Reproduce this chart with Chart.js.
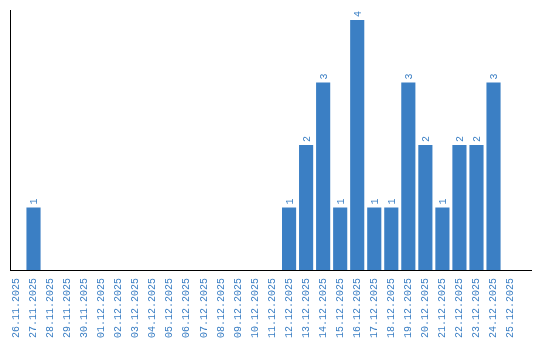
<!DOCTYPE html>
<html>
<head>
<meta charset="utf-8">
<script src="https://cdn.jsdelivr.net/npm/chart.js@4"></script>
<style>
  html, body { margin: 0; padding: 0; background: #fff; }
  #wrap { width: 540px; height: 340px; }
</style>
</head>
<body>
<div id="wrap"><canvas id="countChart"></canvas></div>
<script>
const dates = [
  "26.11.2025", "27.11.2025", "28.11.2025", "29.11.2025", "30.11.2025",
  "01.12.2025", "02.12.2025", "03.12.2025", "04.12.2025", "05.12.2025",
  "06.12.2025", "07.12.2025", "08.12.2025", "09.12.2025", "10.12.2025",
  "11.12.2025", "12.12.2025", "13.12.2025", "14.12.2025", "15.12.2025",
  "16.12.2025", "17.12.2025", "18.12.2025", "19.12.2025", "20.12.2025",
  "21.12.2025", "22.12.2025", "23.12.2025", "24.12.2025", "25.12.2025"
];
const counts = [
  0, 1, 0, 0, 0,
  0, 0, 0, 0, 0,
  0, 0, 0, 0, 0,
  0, 1, 2, 3, 1,
  4, 1, 1, 3, 2,
  1, 2, 2, 3, 0
];

const blue = "#3b7fc4";
const monoFont = "'Liberation Mono', monospace";

// value labels written upwards above each bar
const valueLabels = {
  id: "valueLabels",
  afterDatasetsDraw(chart) {
    const ctx = chart.ctx;
    const meta = chart.getDatasetMeta(0);
    ctx.save();
    ctx.fillStyle = blue;
    ctx.font = "10px " + monoFont;
    ctx.textAlign = "left";
    ctx.textBaseline = "middle";
    meta.data.forEach((bar, i) => {
      if (!counts[i]) return;
      ctx.save();
      ctx.translate(bar.x + 1, bar.y - 3);
      ctx.rotate(-Math.PI / 2);
      ctx.fillText(String(counts[i]), 0, 0);
      ctx.restore();
    });
    ctx.restore();
  }
};

new Chart(document.getElementById("countChart").getContext("2d"), {
  type: "bar",
  data: {
    datasets: [{
      data: counts.map((v, i) => ({ x: i, y: v })),
      backgroundColor: blue,
      barPercentage: 0.83,
      categoryPercentage: 1.0
    }]
  },
  options: {
    responsive: true,
    maintainAspectRatio: false,
    animation: false,
    layout: { padding: { left: 10, top: 10, right: 9, bottom: 0 } },
    plugins: {
      legend: { display: false },
      tooltip: { enabled: false }
    },
    scales: {
      x: {
        type: "linear",
        offset: false,
        min: -0.38,
        max: 30.2,
        grid: { display: false, drawTicks: false, tickLength: 0, offset: false },
        border: { display: true, color: "#000", width: 1 },
        ticks: {
          stepSize: 1,
          includeBounds: false,
          color: blue,
          font: { family: monoFont, size: 10 },
          minRotation: 90,
          maxRotation: 90,
          autoSkip: false,
          padding: 8,
          callback: (val) => dates[val]
        },
        afterFit: (scale) => { scale.height = 70; }
      },
      y: {
        min: 0,
        max: 4.16,
        grid: { display: false, drawTicks: false, tickLength: 0 },
        border: { display: true, color: "#000", width: 1 },
        ticks: { display: false }
      }
    }
  },
  plugins: [valueLabels]
});
</script>
</body>
</html>
